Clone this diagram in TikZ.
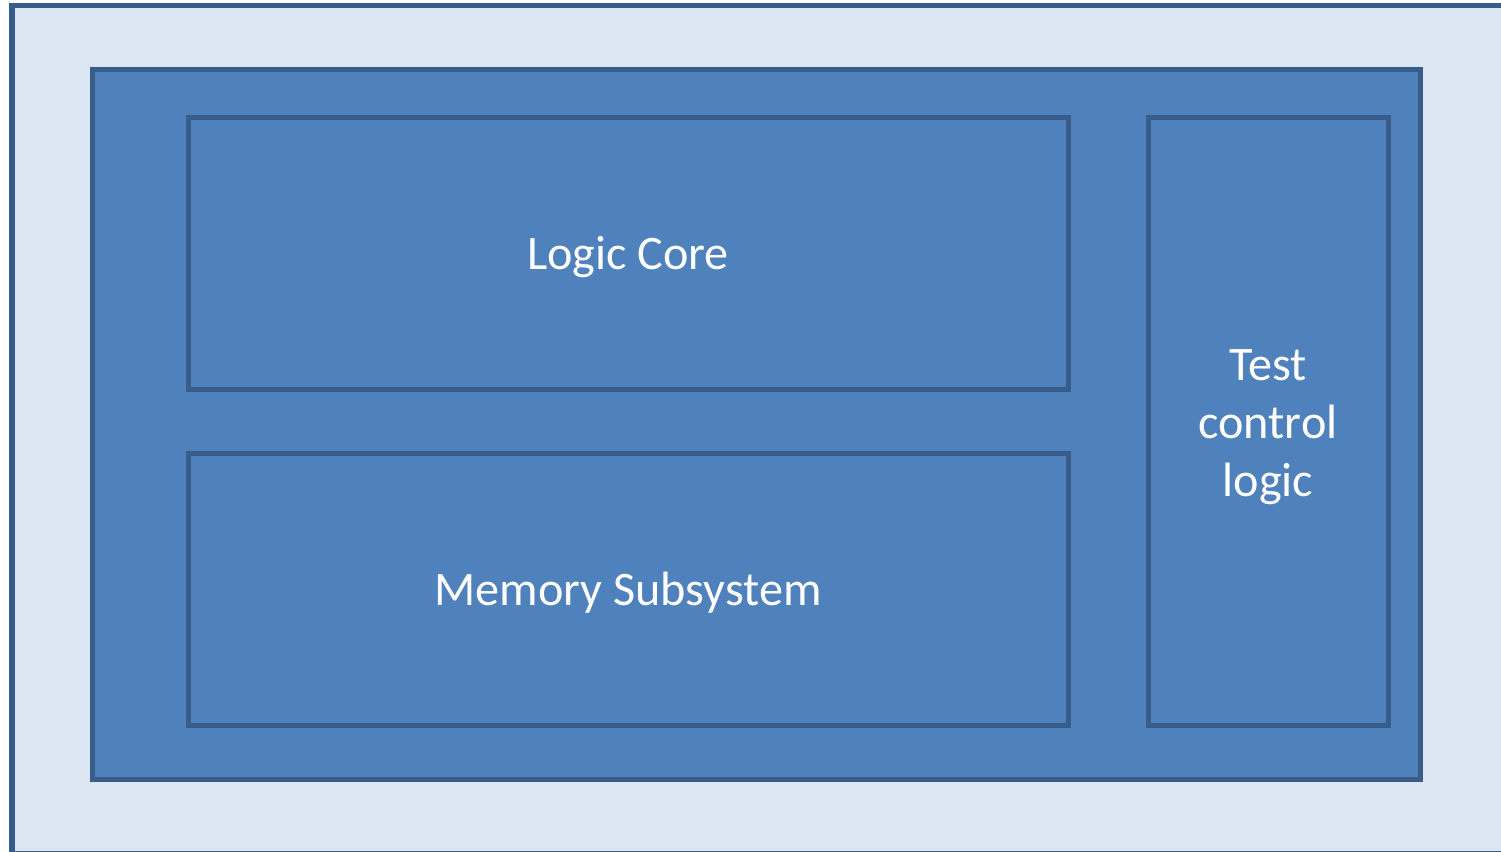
\documentclass[tikz,border=0pt]{standalone}
\usepackage{fontspec}
\setmainfont{Carlito}
\usepackage{tikz}
\definecolor{chiplight}{HTML}{DCE6F2}
\definecolor{blockfill}{HTML}{4F81BD}
\definecolor{blockline}{HTML}{385D8A}
\tikzset{
    block/.style={draw=blockline, fill=blockfill, line width=0.05cm},
    label/.style={text=white, font=\fontsize{13.7}{16.5}\selectfont, align=center}
}

\begin{document}
\begin{tikzpicture}[x=0.01cm, y=-0.01cm]
    \useasboundingbox (0,0) rectangle (1501,851);
    \clip (0,0) rectangle (1501,851);

    % die outline
    \draw [draw=blockline, fill=chiplight, line width=0.05cm]
            (12,5) rectangle (1540,853);

    % body
    \draw [block] (92,69) rectangle (1420,779);

    \draw [block] (188,117) rectangle (1068,389);
        \node [label] (core) at (628,257) {Logic Core};

    \draw [block] (188,453) rectangle (1068,725);
        \node [label] (mem) at (628,593) {Memory Subsystem};

    \draw [block] (1148,117) rectangle (1388,725);
        \node [label] (test) at (1268,427) {Test\\control\\logic};
\end{tikzpicture}
\end{document}
